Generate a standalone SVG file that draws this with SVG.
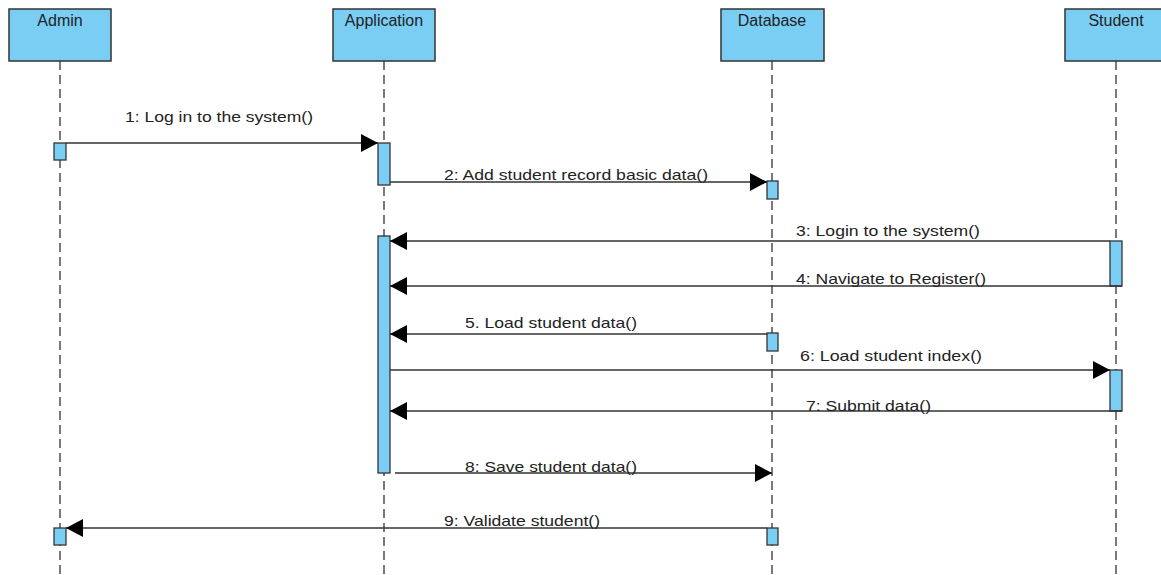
<svg xmlns="http://www.w3.org/2000/svg" width="1161" height="575" viewBox="0 0 1161 575">
<style>
.head{fill:#7ACEF4;stroke:#333;stroke-width:1.5}
.bar{fill:#7ACEF4;stroke:#333;stroke-width:1.3}
.life{stroke:#333;stroke-width:1.3;stroke-dasharray:9 5;fill:none}
.msg{stroke:#333;stroke-width:1.5;fill:none;marker-end:url(#arr)}
.t{font-family:"Liberation Sans",Arial,sans-serif;font-size:16px;fill:#222;text-anchor:middle}
.l{font-family:"Liberation Sans",Arial,sans-serif;font-size:15px;fill:#222}
</style>
<defs>
<marker id="arr" markerUnits="userSpaceOnUse" markerWidth="18" markerHeight="18" refX="17" refY="9" orient="auto">
<path d="M0,0 L17,9 L0,18 z" fill="#000"/>
</marker>
</defs>
<rect width="1161" height="575" fill="#fff"/>
<g id="admin">
<line class="life" x1="60" y1="61" x2="60" y2="575"/>
<rect class="head" x="9" y="9" width="102" height="52"/>
<text class="t" x="60" y="26">Admin</text>
<rect class="bar" x="54" y="143" width="12" height="17"/>
<rect class="bar" x="54" y="528" width="12" height="17"/>
</g>
<g id="application">
<line class="life" x1="384" y1="61" x2="384" y2="575"/>
<rect class="head" x="333" y="9" width="102" height="52"/>
<text class="t" x="384" y="26">Application</text>
<rect class="bar" x="378" y="143" width="12" height="42"/>
<rect class="bar" x="378" y="236" width="12" height="237"/>
</g>
<g id="database">
<line class="life" x1="772" y1="61" x2="772" y2="575"/>
<rect class="head" x="721" y="9" width="103" height="52"/>
<text class="t" x="772" y="26">Database</text>
<rect class="bar" x="767" y="181" width="11" height="18"/>
<rect class="bar" x="767" y="333" width="11" height="18"/>
<rect class="bar" x="767" y="528" width="11" height="17"/>
</g>
<g id="student">
<line class="life" x1="1116" y1="61" x2="1116" y2="575"/>
<rect class="head" x="1065" y="9" width="102" height="52"/>
<text class="t" x="1116" y="26">Student</text>
<rect class="bar" x="1110" y="241" width="12" height="45"/>
<rect class="bar" x="1110" y="370" width="12" height="41"/>
</g>
<g id="connectors">
<line class="msg" x1="66" y1="143" x2="378" y2="143"/>
<text class="l" x="125" y="122" textLength="188" lengthAdjust="spacingAndGlyphs">1: Log in to the system()</text>
<line class="msg" x1="390" y1="182" x2="767" y2="182"/>
<text class="l" x="444" y="180" textLength="264" lengthAdjust="spacingAndGlyphs">2: Add student record basic data()</text>
<line class="msg" x1="1110" y1="241" x2="390" y2="241"/>
<text class="l" x="796" y="236" textLength="184" lengthAdjust="spacingAndGlyphs">3: Login to the system()</text>
<line class="msg" x1="1122" y1="286" x2="390" y2="286"/>
<text class="l" x="796" y="284" textLength="190" lengthAdjust="spacingAndGlyphs">4: Navigate to Register()</text>
<line class="msg" x1="767" y1="334" x2="390" y2="334"/>
<text class="l" x="465" y="328" textLength="172" lengthAdjust="spacingAndGlyphs">5. Load student data()</text>
<line class="msg" x1="390" y1="370" x2="1110" y2="370"/>
<text class="l" x="800" y="361" textLength="182" lengthAdjust="spacingAndGlyphs">6: Load student index()</text>
<line class="msg" x1="1122" y1="411" x2="390" y2="411"/>
<text class="l" x="806" y="411" textLength="125" lengthAdjust="spacingAndGlyphs">7: Submit data()</text>
<line class="msg" x1="395" y1="473" x2="772" y2="473"/>
<text class="l" x="465" y="472" textLength="172" lengthAdjust="spacingAndGlyphs">8: Save student data()</text>
<line class="msg" x1="767" y1="528" x2="66" y2="528"/>
<text class="l" x="444" y="526" textLength="156" lengthAdjust="spacingAndGlyphs">9: Validate student()</text>
</g>
</svg>
